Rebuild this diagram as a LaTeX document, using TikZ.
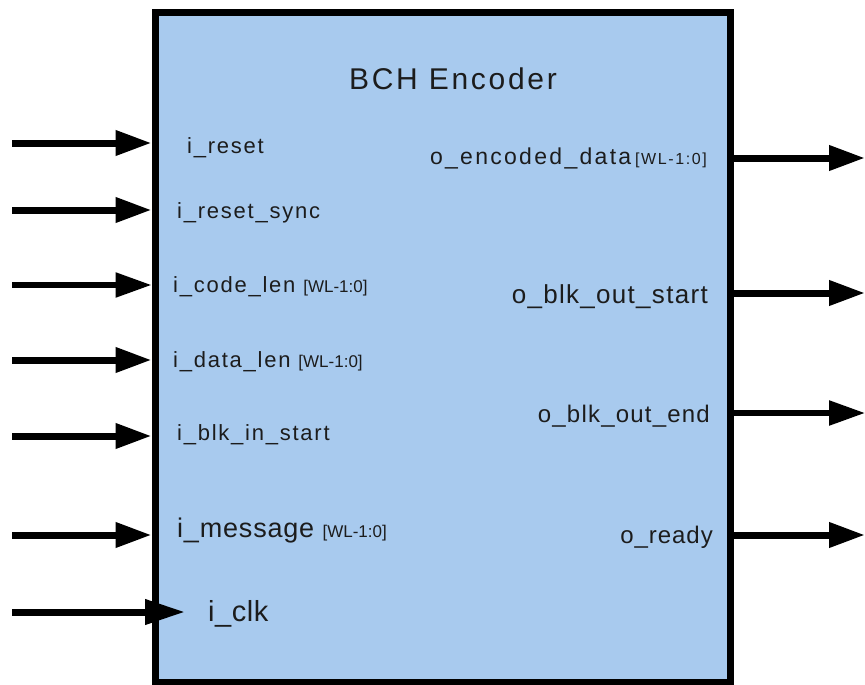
\documentclass[tikz,border=0pt]{standalone}
\usepackage{fontspec}
\setmainfont{Liberation Sans}
\usetikzlibrary{arrows.meta}

\definecolor{boxblue}{RGB}{168,202,238}
\definecolor{inktext}{RGB}{28,28,28}

% size, letter spacing, text
\newcommand\sig[3]{\fontsize{#1}{#1}\selectfont\addfontfeature{LetterSpace=#2}#3}
\newcommand\bus{{\fontsize{17}{17}\selectfont\addfontfeature{LetterSpace=0}[WL-1:0]}}

\tikzset{
  port/.style={line width=7pt, -{Triangle[length=36pt,width=24pt]}},
  thinport/.style={line width=5.5pt, -{Triangle[length=36pt,width=24pt]}},
  lbl/.style={inner sep=0pt, text=inktext},
  block/.style={draw=black, line width=7pt, fill=boxblue, inner sep=0pt,
                minimum width=575pt, minimum height=669pt}
}

\begin{document}
\begin{tikzpicture}[x=1pt,y=-1pt]
\useasboundingbox (0,0) rectangle (865,685);

% the encoder block
\node[block] (enc) at (442.5,347.5) {};
\node[lbl, anchor=base] (title) at (453,89) {\sig{30}{9}{BCH Encoder}};

% input side: free ends of the connectors
\coordinate (s1) at (12,143);
\coordinate (s2) at (12,210);
\coordinate (s3) at (12,285);
\coordinate (s4) at (12,360);
\coordinate (s5) at (12,436);
\coordinate (s6) at (12,535);
\coordinate (s7) at (12,612);
\coordinate (clktip) at (185,612);

\draw[port]     (s1) -- (s1 -| enc.west);
\draw[port]     (s2) -- (s2 -| enc.west);
\draw[thinport] (s3) -- (s3 -| enc.west);
\draw[port]     (s4) -- (s4 -| enc.west);
\draw[port]     (s5) -- (s5 -| enc.west);
\draw[port]     (s6) -- (s6 -| enc.west);
\draw[line width=7pt, -{Triangle[length=40pt,width=24pt]}] (s7) -- (clktip);

% output side: free ends of the connectors
\coordinate (e1) at (865,158);
\coordinate (e2) at (865,293);
\coordinate (e3) at (865,413);
\coordinate (e4) at (865,535);

\draw[port]     (e1 -| enc.east) -- (e1);
\draw[port]     (e2 -| enc.east) -- (e2);
\draw[thinport] (e3 -| enc.east) -- (e3);
\draw[port]     (e4 -| enc.east) -- (e4);

% input labels
\node[lbl, anchor=base west] (lreset)  at (187,153) {\sig{22}{8}{i\_reset}};
\node[lbl, anchor=base west] (lsync)   at (177,218) {\sig{22}{8}{i\_reset\_sync}};
\node[lbl, anchor=base west] (lcode)   at (173,292) {\sig{22}{8}{i\_code\_len} \bus};
\node[lbl, anchor=base west] (ldata)   at (173,367) {\sig{22}{8}{i\_data\_len} \bus};
\node[lbl, anchor=base west] (lblkin)  at (177,440) {\sig{22}{8}{i\_blk\_in\_start}};
\node[lbl, anchor=base west] (lmsg)    at (177,537) {\sig{27}{3}{i\_message} \bus};
\node[lbl, anchor=base west] (lclk)    at (208,621) {\sig{29}{2}{i\_clk}};

% output labels
\node[lbl, anchor=base east] (lenc)    at (707,164) {\sig{23}{10}{o\_encoded\_data}\,{\fontsize{16}{16}\selectfont[WL-1:0]}};
\node[lbl, anchor=base east] (lbstart) at (708,303) {\sig{26}{5}{o\_blk\_out\_start}};
\node[lbl, anchor=base east] (lbend)   at (710,422) {\sig{24}{5}{o\_blk\_out\_end}};
\node[lbl, anchor=base east] (lready)  at (713,543) {\sig{24}{4}{o\_ready}};
\end{tikzpicture}
\end{document}
